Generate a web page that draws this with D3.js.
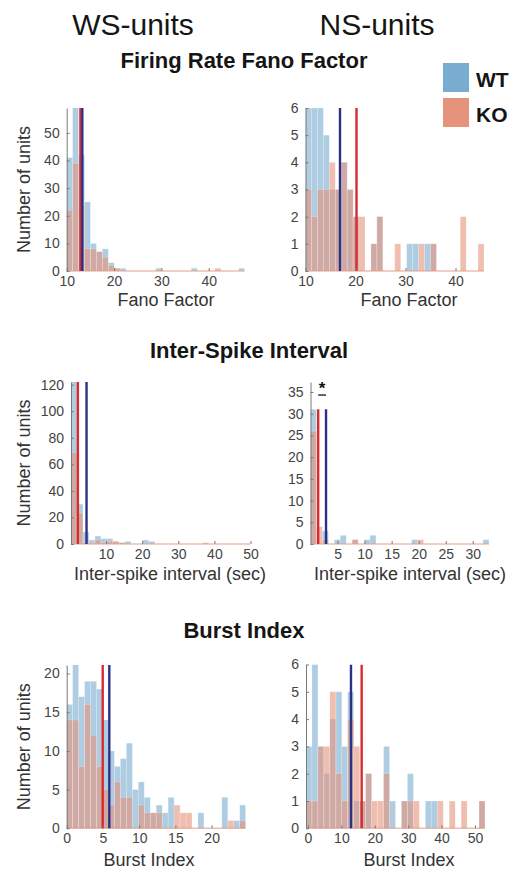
<!DOCTYPE html>
<html>
<head>
<meta charset="utf-8">
<script src="https://cdn.jsdelivr.net/npm/d3@7"></script>
<style>
  body { margin: 0; background: #fff; }
  svg { display: block; }
  text { font-family: "Liberation Sans", Arial, Helvetica, sans-serif; }
</style>
</head>
<body>
<div id="chart"></div>
<script>
const W = 515, H = 871;

// ---- data (30 histogram bins per panel, counts) ----
// Firing rate fano factor, WS units
const ffWsWT = [41, 62, 42, 25, 10, 7, 8, 3, 1, 1, 0, 0, 0, 0, 0, 1, 0, 0, 0, 0, 0, 1, 0, 0, 0, 0, 0, 0, 0, 1];
const ffWsKO = [22, 39, 24, 8, 8, 7, 5, 2, 1, 0, 0, 0, 0, 0, 0, 0, 0, 0, 0, 0, 0, 0, 0, 0, 0, 1, 0, 0, 0, 0];
const ffWsMeans = { WT: 13.3, KO: 12.9 };
// Firing rate fano factor, NS units
const ffNsWT = [6, 6, 6, 5, 3, 3, 4, 3, 2, 0, 0, 1, 2, 0, 0, 0, 0, 1, 1, 0, 1, 1, 0, 0, 0, 0, 0, 0, 0, 0];
const ffNsKO = [3, 2, 3, 3, 4, 3, 4, 3, 2, 2, 0, 1, 2, 0, 0, 1, 0, 0, 0, 1, 0, 1, 0, 0, 0, 0, 2, 0, 0, 1];
const ffNsMeans = { WT: 16.9, KO: 20.2 };
// Inter-spike interval, WS units
const isiWsWT = [130, 30, 9, 3, 6, 4, 4, 2, 1, 2, 0, 0, 3, 2, 0, 0, 0, 0, 0, 0, 0, 0, 0, 0, 0, 0, 0, 0, 0, 0];
const isiWsKO = [69, 23, 1, 0, 3, 1, 2, 2, 1, 0, 0, 0, 0, 0, 0, 0, 0, 0, 0, 0, 0, 0, 1, 0, 0, 0, 0, 0, 0, 0];
const isiWsMeans = { WT: 4.6, KO: 2.2 };
// Inter-spike interval, NS units
const isiNsWT = [31, 0, 3, 0, 1, 2, 0, 1, 0, 1, 2, 0, 0, 0, 0, 0, 0, 1, 0, 0, 0, 0, 0, 0, 0, 0, 0, 0, 0, 1];
const isiNsKO = [26, 4, 1, 0, 0, 0, 0, 1, 0, 0, 0, 0, 0, 0, 0, 0, 0, 0, 1, 0, 0, 0, 0, 0, 0, 0, 0, 0, 0, 0];
const isiNsMeans = { WT: 2.87, KO: 1.42 };
const isiNsSigLevel = 34.3;
// Burst index, WS units
const biWsWT = [16, 22, 17, 19, 19, 18, 14, 10, 8, 9, 11, 5, 6, 4, 2, 3, 2, 4, 0, 0, 0, 0, 2, 0, 0, 0, 4, 0, 1, 3];
const biWsKO = [14, 14, 8, 16, 12, 8, 5, 3, 6, 4, 4, 0, 3, 2, 2, 2, 0, 0, 3, 2, 2, 0, 0, 0, 0, 0, 0, 1, 0, 1];
const biWsMeans = { WT: 5.88, KO: 4.97 };
// Burst index, NS units
const biNsWT = [3, 6, 3, 2, 4, 5, 3, 5, 1, 1, 2, 0, 0, 3, 1, 0, 1, 2, 0, 0, 1, 1, 0, 0, 0, 0, 0, 0, 0, 1];
const biNsKO = [1, 1, 3, 3, 5, 2, 1, 4, 3, 1, 2, 1, 1, 2, 0, 0, 1, 1, 1, 0, 0, 0, 1, 0, 1, 0, 1, 0, 0, 1];
const biNsMeans = { WT: 12.87, KO: 16.07 };

// axis ranges and ticks
const ffWsX = [10, 47.6], ffWsY = [0, 59];
const ffNsX = [10, 45.7], ffNsY = [0, 6];
const isiWsX = [0.3, 50], isiWsY = [0, 122];
const isiNsX = [0, 33], isiNsY = [0, 37.3];
const biWsX = [0, 24.7], biWsY = [0, 21.1];
const biNsX = [-0.6, 53], biNsY = [0, 6];

const ffXTicks = [10, 20, 30, 40];
const ffWsYTicks = [0, 10, 20, 30, 40, 50];
const ffNsYTicks = [0, 1, 2, 3, 4, 5, 6];
const isiWsXTicks = [10, 20, 30, 40, 50];
const isiWsYTicks = [0, 20, 40, 60, 80, 100, 120];
const isiNsXTicks = [5, 10, 15, 20, 25, 30];
const isiNsYTicks = [0, 5, 10, 15, 20, 25, 30, 35];
const biWsXTicks = [0, 5, 10, 15, 20];
const biWsYTicks = [0, 5, 10, 15, 20];
const biNsXTicks = [0, 10, 20, 30, 40, 50];
const biNsYTicks = [0, 1, 2, 3, 4, 5, 6];

const groups = ["WT", "KO"];
const sectionTitles = ["Firing Rate Fano Factor", "Inter-Spike Interval", "Burst Index"];
const columnTitles = ["WS-units", "NS-units"];

const WT_COLOR = "#78acd0";
const KO_COLOR = "#e5937a";
const WT_LINE = "#2b3185";
const KO_LINE = "#da2a2e";

// ---- layout ----
const panels = [
  { wt: ffWsWT, ko: ffWsKO, means: ffWsMeans, xd: ffWsX, yd: ffWsY, xt: ffXTicks, yt: ffWsYTicks,
    box: [66.7, 108, 244.7, 271], xl: "Fano Factor", xlx: 166, xly: 306, yl: true },
  { wt: ffNsWT, ko: ffNsKO, means: ffNsMeans, xd: ffNsX, yd: ffNsY, xt: ffXTicks, yt: ffNsYTicks,
    box: [305.5, 108, 484, 271], xl: "Fano Factor", xlx: 409, xly: 306 },
  { wt: isiWsWT, ko: isiWsKO, means: isiWsMeans, xd: isiWsX, yd: isiWsY, xt: isiWsXTicks, yt: isiWsYTicks,
    box: [71, 382, 250.5, 544], xl: "Inter-spike interval (sec)", xlx: 170, xly: 580, yl: true },
  { wt: isiNsWT, ko: isiNsKO, means: isiNsMeans, xd: isiNsX, yd: isiNsY, xt: isiNsXTicks, yt: isiNsYTicks,
    box: [310.5, 382, 489, 544], xl: "Inter-spike interval (sec)", xlx: 410, xly: 580, star: isiNsSigLevel },
  { wt: biWsWT, ko: biWsKO, means: biWsMeans, xd: biWsX, yd: biWsY, xt: biWsXTicks, yt: biWsYTicks,
    box: [66.7, 665, 245.7, 828.3], xl: "Burst Index", xlx: 149, xly: 866, yl: true },
  { wt: biNsWT, ko: biNsKO, means: biNsMeans, xd: biNsX, yd: biNsY, xt: biNsXTicks, yt: biNsYTicks,
    box: [306, 664.5, 485, 828.3], xl: "Burst Index", xlx: 409, xly: 866 }
];

const svg = d3.select("#chart").append("svg").attr("width", W).attr("height", H);
svg.append("rect").attr("width", W).attr("height", H).attr("fill", "#fff");

// column headings + section titles
svg.selectAll("text.col").data(columnTitles).enter().append("text")
  .attr("class", "col")
  .attr("x", (d, i) => [133, 377][i]).attr("y", 35)
  .attr("text-anchor", "middle").attr("font-size", 30).attr("fill", "#151515")
  .text(d => d);

svg.selectAll("text.sect").data(sectionTitles).enter().append("text")
  .attr("class", "sect")
  .attr("x", (d, i) => [244, 249, 244][i]).attr("y", (d, i) => [68, 358, 638][i])
  .attr("text-anchor", "middle").attr("font-size", 22).attr("font-weight", "bold").attr("fill", "#151515")
  .text(d => d);

// legend
const leg = svg.append("g");
groups.forEach((g, i) => {
  leg.append("rect").attr("x", 443).attr("y", 63 + i * 35).attr("width", 26).attr("height", 29)
    .attr("fill", g === "WT" ? WT_COLOR : KO_COLOR);
  leg.append("text").attr("x", 476).attr("y", 87 + i * 35)
    .attr("font-size", 21).attr("font-weight", "bold").attr("fill", "#151515").text(g);
});

panels.forEach((p, pi) => {
  const [l, t, r, b] = p.box;
  const x = d3.scaleLinear().domain(p.xd).range([l, r]);
  const y = d3.scaleLinear().domain(p.yd).range([b, t]);
  const nb = p.wt.length;
  const bw = (p.xd[1] - p.xd[0]) / nb;
  const g = svg.append("g");

  const clipId = "clip" + pi;
  g.append("clipPath").attr("id", clipId).append("rect")
    .attr("x", l).attr("y", t).attr("width", r - l).attr("height", b - t + 2);

  const plot = g.append("g").attr("clip-path", `url(#${clipId})`);

  [[p.wt, WT_COLOR], [p.ko, KO_COLOR]].forEach(([vals, col]) => {
    plot.append("g").selectAll("rect").data(vals).enter().append("rect")
      .attr("x", (d, i) => x(p.xd[0] + i * bw))
      .attr("width", (d, i) => x(p.xd[0] + (i + 1) * bw) - x(p.xd[0] + i * bw))
      .attr("y", d => y(d))
      .attr("height", d => y(0) - y(d))
      .attr("fill", col).attr("fill-opacity", 0.6)
      .attr("stroke", "#fff").attr("stroke-opacity", 0.35).attr("stroke-width", 0.6);
  });

  // baseline of the empty bins
  plot.append("line").attr("x1", l).attr("x2", r).attr("y1", y(0)).attr("y2", y(0))
    .attr("stroke", KO_COLOR).attr("stroke-opacity", 0.6).attr("stroke-width", 1.5);

  // mean lines, drawn up to the tallest bin
  const peak = d3.max(p.wt.concat(p.ko));
  [["KO", KO_LINE], ["WT", WT_LINE]].forEach(([k, col]) => {
    plot.append("line")
      .attr("x1", x(p.means[k])).attr("x2", x(p.means[k]))
      .attr("y1", y(0)).attr("y2", y(peak))
      .attr("stroke", col).attr("stroke-width", 2.4);
  });

  // axes
  const yAxis = d3.axisLeft(y).tickValues(p.yt).tickFormat(d3.format("d"))
    .tickSizeInner(-3).tickSizeOuter(0).tickPadding(7);
  const ya = g.append("g").attr("transform", `translate(${l},0)`).call(yAxis);
  ya.select(".domain").attr("stroke", "#7a7a7a").attr("stroke-width", 1);
  ya.selectAll(".tick line").attr("stroke", "#7a7a7a");
  ya.selectAll(".tick text").attr("font-size", 14).attr("fill", "#444")
    .attr("font-family", '"Liberation Sans", Arial, sans-serif');

  const xAxis = d3.axisBottom(x).tickValues(p.xt).tickFormat(d3.format("d"))
    .tickSizeInner(-3).tickSizeOuter(0).tickPadding(5);
  const xa = g.append("g").attr("transform", `translate(0,${b})`).call(xAxis);
  xa.select(".domain").remove();
  xa.selectAll(".tick line").attr("stroke", "#7a7a7a");
  xa.selectAll(".tick text").attr("font-size", 14).attr("fill", "#444")
    .attr("font-family", '"Liberation Sans", Arial, sans-serif');

  // labels
  g.append("text").attr("x", p.xlx).attr("y", p.xly).attr("text-anchor", "middle")
    .attr("font-size", 18).attr("fill", "#333").text(p.xl);
  if (p.yl) {
    g.append("text")
      .attr("transform", `translate(30,${(t + b) / 2}) rotate(-90)`)
      .attr("text-anchor", "middle").attr("font-size", 18).attr("fill", "#333")
      .text("Number of units");
  }

  // significance marker between the two means
  if (p.star) {
    g.append("line")
      .attr("x1", x(p.means.KO)).attr("x2", x(p.means.WT))
      .attr("y1", y(p.star)).attr("y2", y(p.star))
      .attr("stroke", "#111").attr("stroke-width", 1.3);
    g.append("text")
      .attr("x", x((p.means.KO + p.means.WT) / 2)).attr("y", y(p.star) - 1)
      .attr("text-anchor", "middle").attr("font-size", 17).attr("font-weight", "bold")
      .attr("fill", "#111").text("*");
  }
});
</script>
</body>
</html>
